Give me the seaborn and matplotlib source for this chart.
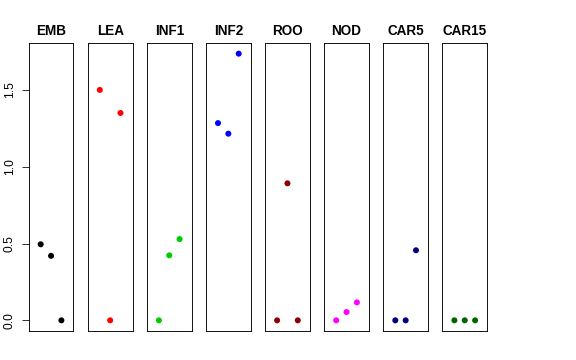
import matplotlib
matplotlib.use("Agg")
import matplotlib.pyplot as plt
import seaborn as sns
import pandas as pd

tissues = ["EMB", "LEA", "INF1", "INF2", "ROO", "NOD", "CAR5", "CAR15"]
colors = ["#000000", "#FF0000", "#00CD00", "#0000FF", "#8B0000", "#FF00FF", "#000080", "#006400"]
replicate = [1, 2, 3]
emb = [0.495, 0.42, 0.0]
lea = [1.50, 0.0, 1.35]
inf1 = [0.0, 0.423, 0.529]
inf2 = [1.284, 1.215, 1.736]
roo = [0.0, 0.892, 0.0]
nod = [0.0, 0.054, 0.117]
car5 = [0.0, 0.0, 0.456]
car15 = [0.0, 0.0, 0.0]
values = [emb, lea, inf1, inf2, roo, nod, car5, car15]
yticks = [0.0, 0.5, 1.0, 1.5]
ytick_labels = ["0.0", "0.5", "1.0", "1.5"]

rows = []
for t, vals in zip(tissues, values):
    for r, v in zip(replicate, vals):
        rows.append({"tissue": t, "rep": r, "value": v})
df = pd.DataFrame(rows)

sns.set_theme(style="white")
plt.rcParams["font.family"] = ["Liberation Sans", "DejaVu Sans"]

fig = plt.figure(figsize=(8, 5), dpi=72)
left0 = 28.7 / 576
width = 44.7 / 576
pitch = 59.1 / 576
bottom = 29 / 360
height = 288 / 360

ymax = max(max(v) for v in values)
ypad = ymax * 0.04

for i, (t, col) in enumerate(zip(tissues, colors)):
    ax = fig.add_axes([left0 + i * pitch, bottom, width, height])
    sub = df[df["tissue"] == t]
    sns.scatterplot(data=sub, x="rep", y="value", color=col, s=36,
                    edgecolor="none", linewidth=0, ax=ax)
    ax.set_xlim(-0.16, 4.16)
    ax.set_ylim(-ypad, ymax + ypad)
    ax.set_xticks([])
    ax.set_xlabel("")
    ax.set_ylabel("")
    ax.set_title(t, fontsize=13.5, fontweight="bold", pad=8, color="black")
    for sp in ax.spines.values():
        sp.set_visible(True)
        sp.set_color("black")
        sp.set_linewidth(0.9)
    if i == 0:
        ax.set_yticks(yticks)
        ax.set_yticklabels(ytick_labels, rotation=90, va="center", fontsize=12, color="black")
        ax.tick_params(axis="y", left=True, length=7, width=0.8, pad=6, color="black")
    else:
        ax.set_yticks([])

fig.savefig("out.png", dpi=72)
